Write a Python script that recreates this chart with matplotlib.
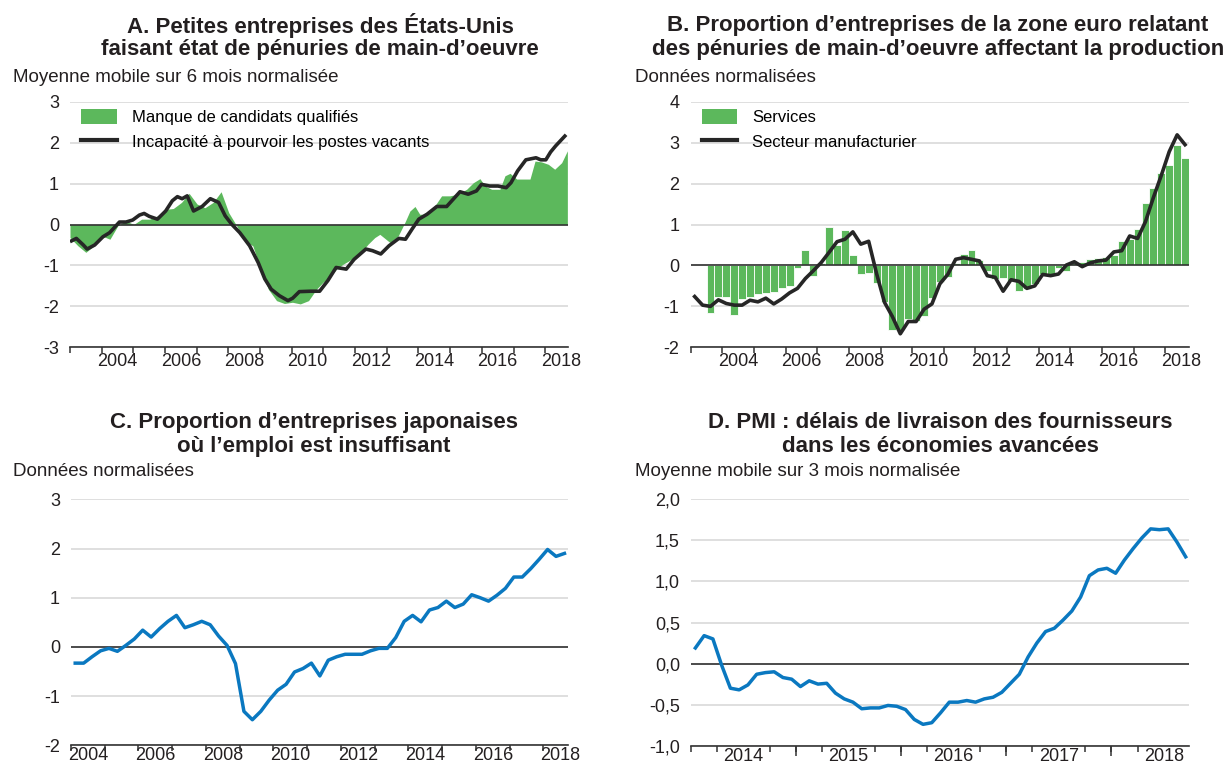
import matplotlib
matplotlib.use("Agg")
import matplotlib.pyplot as plt
import pandas as pd
from matplotlib.lines import Line2D
from matplotlib.patches import Patch

plt.rcParams["font.family"] = ["Liberation Sans", "DejaVu Sans"]

GREEN = "#5cb85c"
DARK = "#262626"
BLUE = "#0a78c0"
GRID = "#d9d9d9"
TEXT = "#231f20"

# --- A. US small firms (6-month moving average, dates as decimal years) ---
a_bar_t = [2003.0, 2003.25, 2003.5, 2003.76, 2004.01, 2004.26, 2004.51, 2004.76,
           2005.01, 2005.26, 2005.51, 2005.76, 2006.01, 2006.26, 2006.52, 2006.76,
           2007.01, 2007.26, 2007.52, 2007.77, 2008.01, 2008.26, 2008.52, 2008.77,
           2009.02, 2009.26, 2009.52, 2009.77, 2010.02, 2010.27, 2010.53, 2010.78,
           2010.99, 2011.2, 2011.41, 2011.62, 2011.89, 2012.15, 2012.41, 2012.62,
           2012.78, 2013.1, 2013.36, 2013.57, 2013.73, 2013.89, 2014.04, 2014.25,
           2014.52, 2014.73, 2014.99, 2015.25, 2015.52, 2015.73, 2015.94, 2016.1,
           2016.31, 2016.57, 2016.73, 2016.89, 2017.1, 2017.31, 2017.52, 2017.68,
           2017.88, 2018.1, 2018.3, 2018.52, 2018.7]
a_bar_v = [-0.32, -0.52, -0.68, -0.52, -0.28, -0.36, -0.03, 0.09,
           0.0, 0.13, 0.13, 0.21, 0.37, 0.39, 0.54, 0.76,
           0.50, 0.41, 0.54, 0.80, 0.29, -0.03, -0.40, -0.52,
           -1.09, -1.58, -1.86, -1.93, -1.90, -1.94, -1.86, -1.58,
           -1.41, -1.29, -1.09, -0.97, -0.85, -0.72, -0.48, -0.32,
           -0.24, -0.44, -0.28, 0.05, 0.33, 0.44, 0.25, 0.25,
           0.46, 0.70, 0.70, 0.74, 0.86, 1.02, 1.12, 0.94,
           0.86, 0.86, 1.19, 1.25, 1.11, 1.11, 1.11, 1.55,
           1.53, 1.47, 1.35, 1.51, 1.80]

a_line_t = [2003.05, 2003.2, 2003.42, 2003.54, 2003.78, 2004.04, 2004.25, 2004.56,
            2004.77, 2004.98, 2005.19, 2005.34, 2005.5, 2005.76, 2006.02, 2006.23,
            2006.39, 2006.54, 2006.7, 2006.9, 2007.17, 2007.43, 2007.69, 2007.9,
            2008.1, 2008.36, 2008.67, 2008.94, 2009.15, 2009.35, 2009.61, 2009.88,
            2010.03, 2010.24, 2010.6, 2010.88, 2011.14, 2011.4, 2011.72, 2011.97,
            2012.34, 2012.55, 2012.81, 2013.07, 2013.38, 2013.59, 2013.8, 2014.01,
            2014.27, 2014.58, 2014.89, 2015.1, 2015.31, 2015.57, 2015.83, 2015.99,
            2016.25, 2016.51, 2016.77, 2016.92, 2017.13, 2017.39, 2017.71, 2017.86,
            2018.02, 2018.17, 2018.33, 2018.62]
a_line_v = [-0.40, -0.34, -0.50, -0.60, -0.50, -0.30, -0.20, 0.06,
            0.06, 0.11, 0.23, 0.27, 0.20, 0.13, 0.33, 0.58,
            0.68, 0.63, 0.70, 0.33, 0.44, 0.63, 0.54, 0.21,
            0.01, -0.20, -0.52, -0.93, -1.33, -1.58, -1.74, -1.86,
            -1.80, -1.64, -1.63, -1.63, -1.37, -1.05, -1.09, -0.85,
            -0.60, -0.64, -0.72, -0.52, -0.34, -0.36, -0.11, 0.13,
            0.25, 0.44, 0.44, 0.62, 0.80, 0.74, 0.82, 0.98,
            0.94, 0.94, 0.90, 1.02, 1.31, 1.58, 1.63, 1.58,
            1.58, 1.77, 1.92, 2.16]

# --- B. Euro area (quarterly) ---
b_services_start = "2003Q3"
b_services = [-1.15, -0.76, -0.78, -1.20, -0.82, -0.76, -0.70, -0.68, -0.66, -0.56,
              -0.51, -0.07, 0.38, -0.25, 0.05, 0.93, 0.50, 0.86, 0.25, -0.21,
              -0.19, -0.43, -0.90, -1.58, -1.58, -1.31, -1.35, -1.24, -0.80, -0.40,
              -0.28, 0.07, 0.28, 0.37, 0.13, -0.13, -0.32, -0.30, -0.37, -0.62,
              -0.58, -0.45, -0.21, -0.21, -0.07, -0.13, 0.05, 0.09, 0.15, 0.17,
              0.20, 0.25, 0.60, 0.65, 0.90, 1.52, 1.88, 2.25, 2.45, 2.93, 2.63]
b_manuf_start = "2003Q1"
b_manuf = [-0.76, -0.97, -1.00, -0.84, -0.93, -0.97, -0.97, -0.85,
           -0.89, -0.80, -0.94, -0.82, -0.67, -0.56, -0.32, -0.13,
           0.07, 0.32, 0.58, 0.64, 0.82, 0.52, 0.59, -0.20,
           -0.90, -1.25, -1.67, -1.37, -1.37, -1.07, -0.94, -0.45,
           -0.22, 0.15, 0.19, 0.15, 0.11, -0.25, -0.29, -0.63,
           -0.35, -0.39, -0.56, -0.50, -0.22, -0.25, -0.21, 0.01,
           0.09, -0.03, 0.06, 0.11, 0.13, 0.33, 0.36, 0.72,
           0.66, 1.07, 1.66, 2.20, 2.78, 3.19, 2.95]

# --- C. Japan (quarterly) ---
c_start = "2004Q1"
c_values = [-0.33, -0.33, -0.20, -0.08, -0.03, -0.09, 0.03, 0.16, 0.34, 0.20,
            0.37, 0.52, 0.64, 0.39, 0.45, 0.52, 0.45, 0.22, 0.03, -0.34,
            -1.31, -1.48, -1.31, -1.08, -0.88, -0.76, -0.51, -0.44, -0.33, -0.59,
            -0.27, -0.20, -0.15, -0.15, -0.15, -0.08, -0.03, -0.03, 0.19, 0.52,
            0.64, 0.51, 0.75, 0.80, 0.93, 0.80, 0.87, 1.06, 1.00, 0.93,
            1.05, 1.19, 1.42, 1.42, 1.59, 1.78, 1.98, 1.84, 1.90]

# --- D. PMI supplier delivery times (monthly) ---
d_start = "2014-01"
d_values = [0.19, 0.34, 0.30, -0.02, -0.30, -0.32, -0.26, -0.13, -0.11, -0.10,
            -0.17, -0.19, -0.28, -0.21, -0.25, -0.24, -0.36, -0.43, -0.47, -0.55,
            -0.54, -0.54, -0.51, -0.52, -0.56, -0.68, -0.74, -0.72, -0.60, -0.47,
            -0.47, -0.45, -0.47, -0.43, -0.41, -0.35, -0.24, -0.13, 0.08, 0.25,
            0.39, 0.43, 0.53, 0.64, 0.81, 1.07, 1.14, 1.16, 1.10, 1.26,
            1.40, 1.53, 1.64, 1.63, 1.64, 1.48, 1.30]


def quarter_years(start, n):
    p = pd.period_range(start, periods=n, freq="Q")
    return (p.year + (p.quarter - 1) / 4).to_numpy(dtype=float)


def month_mid_years(start, n):
    p = pd.period_range(start, periods=n, freq="M")
    return (p.year + (p.month - 0.5) / 12).to_numpy(dtype=float)


W, H = 1231, 765
fig = plt.figure(figsize=(W / 100, H / 100), dpi=100)


def px_axes(x0, y0, x1, y1):
    return fig.add_axes([x0 / W, 1 - y1 / H, (x1 - x0) / W, (y1 - y0) / H])


def ftext(x, y, s, **kw):
    fig.text(x / W, 1 - y / H, s, color=TEXT, **kw)


def style(ax, xlim, ylim, yticks, ylabels, label_years, tick_pos, xpad=4):
    ax.set_xlim(*xlim)
    ax.set_ylim(*ylim)
    for side in ("left", "top", "right"):
        ax.spines[side].set_visible(False)
    ax.spines["bottom"].set_color("#333333")
    ax.spines["bottom"].set_linewidth(1.2)
    ax.set_yticks(yticks)
    ax.set_yticklabels(ylabels)
    ax.tick_params(axis="y", length=0, pad=8, labelsize=13, labelcolor=TEXT)
    ax.set_xticks([y + 0.5 for y in label_years])
    ax.set_xticklabels([str(y) for y in label_years])
    ax.tick_params(axis="x", which="major", length=0, pad=xpad, labelsize=13,
                   labelcolor=TEXT)
    ax.set_xticks(tick_pos, minor=True)
    ax.tick_params(axis="x", which="minor", length=4, width=1.1,
                   color="#333333", direction="out")
    ax.grid(axis="y", color=GRID, lw=1.2)
    ax.set_axisbelow(True)
    ax.axhline(0, color="#333333", lw=1.2, zorder=2.5)


def legend(ax, handles, labels):
    ax.legend(handles, labels, loc="upper left", bbox_to_anchor=(0.022, 0.972),
              frameon=False, fontsize=12, handlelength=2.14, handleheight=1.08,
              handletextpad=0.9, labelspacing=0.48, borderpad=0, borderaxespad=0)


years_ab = list(range(2003, 2019))

# Panel A
ax = px_axes(70, 101.7, 568, 347.3)
ax.fill_between(a_bar_t, a_bar_v, 0, color=GREEN, lw=0, zorder=2)
ax.plot(a_line_t, a_line_v, color=DARK, lw=2.6, zorder=3)
style(ax, (2003.0, 2018.72), (-3, 3), range(-3, 4),
      [str(v) for v in range(-3, 4)], range(2004, 2019, 2), years_ab)
legend(ax, [Patch(facecolor=GREEN), Line2D([], [], color=DARK, lw=3)],
       ["Manque de candidats qualifiés", "Incapacité à pourvoir les postes vacants"])

# Panel B
ax = px_axes(690.7, 101.7, 1189, 347.3)
xb = quarter_years(b_services_start, len(b_services))
ax.bar(xb, b_services, width=0.25, align="edge", color=GREEN, edgecolor="white",
       linewidth=0.6, zorder=2)
xm = quarter_years(b_manuf_start, len(b_manuf)) + 0.125
ax.plot(xm, b_manuf, color=DARK, lw=2.6, zorder=3)
style(ax, (2003.0, 2018.75), (-2, 4), range(-2, 5),
      [str(v) for v in range(-2, 5)], range(2004, 2019, 2), years_ab)
legend(ax, [Patch(facecolor=GREEN), Line2D([], [], color=DARK, lw=3)],
       ["Services", "Secteur manufacturier"])

# Panel C
ax = px_axes(71, 499.3, 568, 745.3)
xc = quarter_years(c_start, len(c_values)) + 0.125
ax.plot(xc, c_values, color=BLUE, lw=2.5, zorder=3)
style(ax, (2004.0, 2018.73), (-2, 3), range(-2, 4),
      [str(v) for v in range(-2, 4)], range(2004, 2019, 2), range(2004, 2019),
      xpad=1.5)

# Panel D
ax = px_axes(691, 499.3, 1189, 745.7)
xd = month_mid_years(d_start, len(d_values))
ax.plot(xd, d_values, color=BLUE, lw=2.5, zorder=3)
d_ticks = [-1.0, -0.5, 0.0, 0.5, 1.0, 1.5, 2.0]
style(ax, (2014.0, 2018.74), (-1, 2), d_ticks,
      [f"{v:.1f}".replace(".", ",") for v in d_ticks], range(2014, 2019),
      [2014 + q / 4 for q in range(19)], xpad=1.5)
sec = ax.secondary_xaxis("bottom")
sec.set_xticks(range(2015, 2019))
sec.tick_params(length=7, width=1.1, color="#333333", labelbottom=False)
sec.spines["bottom"].set_visible(False)

# Titles and units
title_kw = dict(ha="center", va="center", fontsize=16, fontweight="bold")
ftext(320, 26, "A. Petites entreprises des États-Unis", **title_kw)
ftext(320, 49, "faisant état de pénuries de main-d’oeuvre", **title_kw)
ftext(938, 26, "B. Proportion d’entreprises de la zone euro relatant", **title_kw)
ftext(938, 49, "des pénuries de main-d’oeuvre affectant la production", **title_kw)
ftext(314, 422, "C. Proportion d’entreprises japonaises", **title_kw)
ftext(314, 446, "où l’emploi est insuffisant", **title_kw)
ftext(940, 422, "D. PMI : délais de livraison des fournisseurs", **title_kw)
ftext(940, 446, "dans les économies avancées", **title_kw)

unit_kw = dict(ha="left", va="center", fontsize=13.5)
ftext(13, 77, "Moyenne mobile sur 6 mois normalisée", **unit_kw)
ftext(635, 77, "Données normalisées", **unit_kw)
ftext(13, 472, "Données normalisées", **unit_kw)
ftext(635, 472, "Moyenne mobile sur 3 mois normalisée", **unit_kw)

fig.savefig("out.png", dpi=100)
